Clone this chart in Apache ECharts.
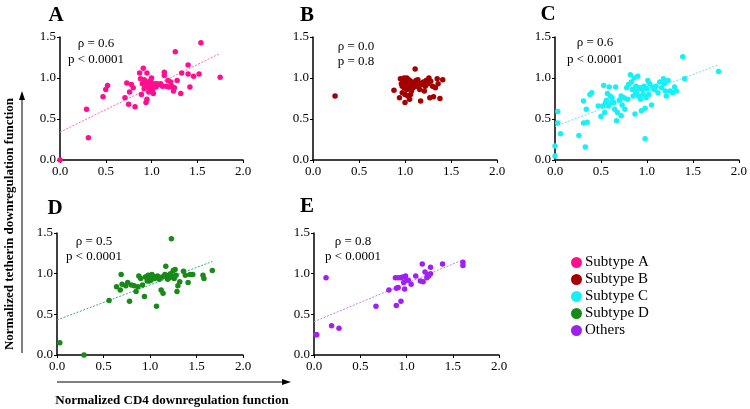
<!DOCTYPE html>
<html>
<head>
<meta charset="utf-8">
<script src="https://cdn.jsdelivr.net/npm/echarts@6/dist/echarts.min.js"></script>
<style>
html,body{margin:0;padding:0;background:#fff;}
#chart{width:750px;height:409px;}
</style>
</head>
<body>
<div id="chart"></div>
<script>
var xTicks = [0, 0.5, 1.0, 1.5, 2.0];
var yTicks = [0, 0.5, 1.0, 1.5];
var seriesNames = ['Subtype A', 'Subtype B', 'Subtype C', 'Subtype D', 'Others'];
var panelLetters = ['A', 'B', 'C', 'D', 'E'];
var rhoTexts = ['\u03c1 = 0.6', '\u03c1 = 0.0', '\u03c1 = 0.6', '\u03c1 = 0.5', '\u03c1 = 0.8'];
var pTexts = ['p < 0.0001', 'p = 0.8', 'p < 0.0001', 'p < 0.0001', 'p < 0.0001'];
var xTitle = 'Normalized CD4 downregulation function';
var yTitle = 'Normalized tetherin downregulation function';

var subtypeA = [[0,0],[0.29,0.62],[0.31,0.27],[0.47,0.77],[0.50,0.86],[0.52,0.91],[0.71,0.76],[0.73,0.94],[0.75,0.68],[0.76,0.83],[0.78,0.92],[0.80,0.88],[0.82,0.65],[0.87,1.06],[0.88,0.99],[0.89,0.80],[0.91,1.12],[0.90,0.93],[0.92,0.87],[0.93,0.96],[0.94,0.70],[0.95,0.74],[0.95,1.06],[0.96,0.90],[0.97,0.94],[0.98,0.88],[0.99,0.97],[1.00,0.91],[1.01,0.85],[1.02,0.81],[1.03,0.93],[1.05,0.89],[1.08,0.92],[1.10,0.93],[1.12,0.90],[1.14,1.07],[1.14,1.03],[1.16,0.90],[1.19,0.89],[1.21,0.95],[1.22,0.90],[1.24,0.84],[1.25,0.88],[1.26,1.32],[1.28,0.97],[1.32,0.81],[1.33,1.06],[1.40,1.16],[1.40,1.05],[1.42,0.89],[1.46,1.02],[1.52,1.05],[1.54,1.43],[1.75,1.01],[0.92,0.98],[0.95,0.95],[1.00,1.00],[0.97,0.83],[0.93,0.90],[1.06,0.93],[1.18,0.97]];
var subtypeB = [[0.24,0.78],[0.88,0.85],[0.94,0.76],[0.95,0.99],[0.96,0.93],[0.97,0.90],[0.98,0.97],[0.99,0.88],[1.00,0.95],[1.00,0.70],[1.01,0.92],[1.02,0.86],[1.02,1.00],[1.03,0.78],[1.03,0.94],[1.04,0.89],[1.05,0.74],[1.05,0.97],[1.06,0.91],[1.07,0.84],[1.08,0.95],[1.09,0.88],[1.10,0.93],[1.11,1.11],[1.12,0.97],[1.13,0.90],[1.15,0.94],[1.16,0.86],[1.17,0.72],[1.18,0.92],[1.20,0.95],[1.22,0.90],[1.23,0.97],[1.25,0.93],[1.26,1.00],[1.27,0.76],[1.28,0.96],[1.30,0.90],[1.31,0.77],[1.33,0.88],[1.35,0.99],[1.36,0.93],[1.38,0.75],[1.41,0.98],[0.97,0.82],[1.00,0.80],[1.04,0.98],[0.99,1.00],[1.06,0.80],[1.14,0.98],[1.21,0.84]];
var subtypeC = [[0.00,0.05],[0.00,0.17],[0.03,0.45],[0.03,0.59],[0.06,0.32],[0.26,0.30],[0.31,0.72],[0.31,0.45],[0.33,0.16],[0.34,0.62],[0.35,0.46],[0.38,0.80],[0.40,0.82],[0.47,0.66],[0.50,0.53],[0.52,0.66],[0.53,0.91],[0.54,0.58],[0.55,0.70],[0.56,0.73],[0.57,0.81],[0.58,0.66],[0.59,0.89],[0.60,0.78],[0.62,0.76],[0.64,0.70],[0.66,0.89],[0.67,0.48],[0.68,0.58],[0.70,0.73],[0.72,0.54],[0.73,0.67],[0.75,0.76],[0.76,0.62],[0.78,0.88],[0.79,0.74],[0.80,0.92],[0.82,1.04],[0.83,0.95],[0.84,0.86],[0.85,0.78],[0.86,1.00],[0.87,0.56],[0.88,0.90],[0.89,0.84],[0.90,1.02],[0.91,0.78],[0.92,0.88],[0.93,0.74],[0.94,0.60],[0.95,0.86],[0.96,0.80],[0.97,0.90],[0.98,0.26],[0.98,0.63],[0.99,0.76],[1.00,0.87],[1.01,0.97],[1.03,0.93],[1.05,0.67],[1.06,0.89],[1.08,0.86],[1.10,0.90],[1.12,0.82],[1.14,0.95],[1.16,0.88],[1.18,0.99],[1.19,0.93],[1.21,0.78],[1.23,0.97],[1.25,0.84],[1.28,0.82],[1.30,0.89],[1.32,0.84],[1.39,1.26],[1.41,0.99],[1.78,1.08],[0.61,0.70],[0.72,0.78],[0.65,0.62],[0.88,0.82],[0.94,0.88],[1.02,0.80],[1.20,0.84]];
var subtypeD = [[0.03,0.15],[0.29,0.00],[0.56,0.67],[0.64,0.84],[0.68,0.80],[0.69,0.99],[0.70,0.87],[0.74,0.85],[0.76,0.89],[0.78,0.66],[0.80,0.86],[0.83,0.85],[0.85,0.78],[0.87,0.84],[0.88,0.97],[0.90,0.94],[0.92,0.86],[0.94,0.72],[0.95,0.96],[0.97,0.91],[0.98,0.98],[1.00,0.95],[1.01,0.92],[1.02,0.99],[1.03,0.97],[1.05,0.94],[1.07,0.60],[1.08,0.97],[1.10,0.93],[1.12,0.80],[1.14,0.76],[1.16,0.99],[1.17,1.09],[1.18,0.96],[1.19,0.93],[1.20,0.98],[1.21,0.95],[1.22,1.00],[1.23,1.43],[1.24,0.97],[1.25,1.04],[1.26,0.94],[1.27,1.05],[1.28,0.98],[1.29,0.78],[1.30,0.85],[1.32,0.90],[1.36,1.03],[1.38,0.98],[1.41,0.89],[1.43,0.99],[1.46,0.99],[1.57,0.98],[1.58,0.94],[1.67,1.04],[0.99,0.91],[1.13,0.96]];
var others = [[0.02,0.25],[0.03,0.25],[0.13,0.95],[0.19,0.36],[0.27,0.33],[0.67,0.60],[0.81,0.80],[0.88,0.95],[0.89,0.61],[0.89,0.82],[0.91,0.83],[0.91,0.95],[0.94,0.95],[0.94,0.66],[0.96,0.96],[0.97,0.89],[0.98,0.81],[0.99,0.97],[1.00,0.92],[1.02,0.92],[1.05,0.87],[1.10,0.97],[1.15,0.91],[1.17,1.12],[1.18,0.90],[1.20,1.02],[1.22,0.95],[1.23,0.99],[1.24,0.97],[1.26,1.08],[1.26,1.00],[1.39,1.12],[1.61,1.14],[1.61,1.10]];

var trendA = [[0,0.34],[1.75,1.30]];
var trendC = [[0,0.41],[1.78,1.16]];
var trendD = [[0,0.43],[1.67,1.15]];
var trendE = [[0,0.41],[1.61,1.17]];

var pointSets = [subtypeA, subtypeB, subtypeC, subtypeD, others];
var trendSets = [trendA, null, trendC, trendD, trendE];
var colors = ['#ff0f8f', '#a30000', '#16f0f6', '#188a18', '#a020f0'];
var trendColors = ['#ff6db6', null, '#4ff0f6', '#3cae80', '#c77cf5'];

var FONT = '"Liberation Serif", "Times New Roman", serif';
var grids = [
  {left: 60, top: 37, width: 183, height: 123},
  {left: 313, top: 37, width: 184, height: 123},
  {left: 555, top: 37, width: 184, height: 123},
  {left: 57, top: 233, width: 186, height: 122},
  {left: 314, top: 233, width: 185, height: 122}
];
var letterPos = [[56,16],[307,16],[548,15],[55,209],[307,207]];
var annPos = [[96,44,60],[356,47,62],[595,43,60],[94,242,257],[353,242,257]];

var xAxes = [], yAxes = [], series = [], graphics = [];
grids.forEach(function (g, i) {
  xAxes.push({
    type: 'value', gridIndex: i, min: xTicks[0], max: xTicks[xTicks.length-1], interval: 0.5,
    axisLine: {show: true, onZero: false, lineStyle: {color: '#000', width: 1.5}},
    axisTick: {show: true, length: 3, lineStyle: {color: '#000', width: 1}},
    splitLine: {show: false},
    axisLabel: {color: '#000', fontFamily: FONT, fontSize: 13, margin: 5, formatter: function (v) { return v.toFixed(1); }}
  });
  yAxes.push({
    type: 'value', gridIndex: i, min: yTicks[0], max: yTicks[yTicks.length-1], interval: 0.5,
    axisLine: {show: true, onZero: false, lineStyle: {color: '#000', width: 1.5}},
    axisTick: {show: true, length: 3, lineStyle: {color: '#000', width: 1}},
    splitLine: {show: false},
    axisLabel: {color: '#000', fontFamily: FONT, fontSize: 13, margin: 4, formatter: function (v) { return v.toFixed(1); }}
  });
  if (trendSets[i]) {
    series.push({
      type: 'line', xAxisIndex: i, yAxisIndex: i, data: trendSets[i], showSymbol: false, silent: true,
      lineStyle: {color: trendColors[i], width: 1, type: [2, 1.5]}, z: 1
    });
  }
  series.push({
    name: seriesNames[i], type: 'scatter', xAxisIndex: i, yAxisIndex: i, data: pointSets[i],
    symbol: 'circle', symbolSize: 5.5, itemStyle: {color: colors[i], opacity: 1}, z: 3
  });
  graphics.push({
    type: 'text', x: letterPos[i][0], y: letterPos[i][1],
    style: {text: panelLetters[i], font: 'bold 21px ' + FONT, fill: '#000', textAlign: 'center', textVerticalAlign: 'middle'}
  });
  graphics.push({
    type: 'text', x: annPos[i][0], y: annPos[i][1],
    style: {text: rhoTexts[i], font: '13px ' + FONT, fill: '#000', textAlign: 'center', textVerticalAlign: 'middle'}
  });
  graphics.push({
    type: 'text', x: annPos[i][0], y: annPos[i][2],
    style: {text: pTexts[i], font: '13px ' + FONT, fill: '#000', textAlign: 'center', textVerticalAlign: 'middle'}
  });
});

// axis titles & arrows
graphics.push({
  type: 'text', x: 10, y: 224, rotation: Math.PI / 2,
  style: {text: yTitle, font: 'bold 13px ' + FONT, fill: '#000', textAlign: 'center', textVerticalAlign: 'middle'}
});
graphics.push({type: 'line', shape: {x1: 22, y1: 353, x2: 22, y2: 98}, style: {stroke: '#000', lineWidth: 1}});
graphics.push({type: 'polygon', shape: {points: [[22, 91], [19, 100], [25, 100]]}, style: {fill: '#000'}});
graphics.push({
  type: 'text', x: 172, y: 401,
  style: {text: xTitle, font: 'bold 13px ' + FONT, fill: '#000', textAlign: 'center', textVerticalAlign: 'middle'}
});
graphics.push({type: 'line', shape: {x1: 57, y1: 382, x2: 283, y2: 382}, style: {stroke: '#000', lineWidth: 1}});
graphics.push({type: 'polygon', shape: {points: [[291, 382], [282, 379], [282, 385]]}, style: {fill: '#000'}});

var chart = echarts.init(document.getElementById('chart'), null, {renderer: 'canvas'});
chart.setOption({
  animation: false,
  backgroundColor: '#fff',
  grid: grids,
  xAxis: xAxes,
  yAxis: yAxes,
  legend: {
    data: seriesNames, orient: 'vertical', left: 566, top: 250, itemGap: 2,
    icon: 'circle', itemWidth: 11, itemHeight: 11,
    textStyle: {fontFamily: FONT, fontSize: 15, color: '#000', padding: [0, 0, 0, -2]}
  },
  series: series,
  graphic: graphics
});
</script>
</body>
</html>
